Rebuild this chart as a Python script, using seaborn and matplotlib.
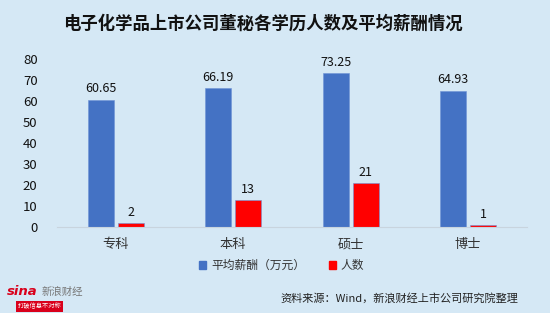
import matplotlib
matplotlib.use("Agg")
import matplotlib.pyplot as plt
import seaborn as sns
import pandas as pd
from matplotlib.patches import Patch

categories = ["专科", "本科", "硕士", "博士"]
salary = [60.65, 66.19, 73.25, 64.93]
headcount = [2, 13, 21, 1]
series_names = ["平均薪酬（万元）", "人数"]
colors = ["#4472C4", "#FF0000"]
title = "电子化学品上市公司董秘各学历人数及平均薪酬情况"
source = "资料来源：Wind，新浪财经上市公司研究院整理"

sns.set_theme(style="white")
plt.rcParams['font.family'] = ['Noto Sans CJK SC', 'DejaVu Sans']
bg = "#D5E8F5"

df = pd.DataFrame({
    "cat": categories * 2,
    "series": [series_names[0]] * 4 + [series_names[1]] * 4,
    "value": salary + headcount,
})

fig = plt.figure(figsize=(5.5, 3.13), dpi=100, facecolor=bg)
ax = fig.add_axes([0.1036, 0.2748, 0.8545, 0.5367], facecolor=bg)

sns.barplot(data=df, x="cat", y="value", hue="series", order=categories,
            hue_order=series_names, palette=colors, width=0.51, gap=0.12,
            saturation=1, ax=ax, legend=False, errorbar=None,
            edgecolor="#6F93D6", linewidth=0.4)

for cont in ax.containers:
    ax.bar_label(cont, labels=[f"{v:g}" for v in cont.datavalues],
                 padding=3, fontsize=9, color="#111111")

ax.set_ylim(0, 80)
ax.set_yticks(range(0, 81, 10))
ax.set_xlim(-0.5, 3.5)
ax.set_xlabel("")
ax.set_ylabel("")
ax.tick_params(axis="y", labelsize=9.5, colors="#111111", length=0, pad=14)
ax.tick_params(axis="x", labelsize=9.5, colors="#333333", length=0, pad=8)
for s in ["top", "right", "left"]:
    ax.spines[s].set_visible(False)
ax.spines["bottom"].set_color("#C8D4DE")
ax.spines["bottom"].set_linewidth(0.8)

fig.text(0.478, 0.923, title, ha="center", va="center", fontsize=12.5,
         fontweight="bold", color="#111111")

handles = [Patch(facecolor=c, edgecolor=c) for c in colors]
fig.legend(handles, series_names, loc="center", bbox_to_anchor=(0.512, 0.152),
           ncol=2, frameon=False, fontsize=8.5, handlelength=0.6, handleheight=0.6,
           handletextpad=0.4, columnspacing=2.0, labelcolor="#333333")

fig.text(0.942, 0.047, source, ha="right", va="center", fontsize=8, color="#222222")

# sina logo as text
fig.text(0.012, 0.068, "sina", ha="left", va="center", fontsize=9.5, fontweight="bold",
         fontstyle="italic", color="#D9001B", family=["DejaVu Sans"])
fig.text(0.075, 0.068, "新浪财经", ha="left", va="center", fontsize=7.5,
         fontstyle="italic", color="#777777")
fig.text(0.072, 0.022, "打破信息不对称", ha="center", va="center", fontsize=4.5,
         color="white", bbox=dict(boxstyle="square,pad=0.25", facecolor="#D9001B", edgecolor="none"))

fig.savefig("out.png", dpi=100, facecolor=bg)
